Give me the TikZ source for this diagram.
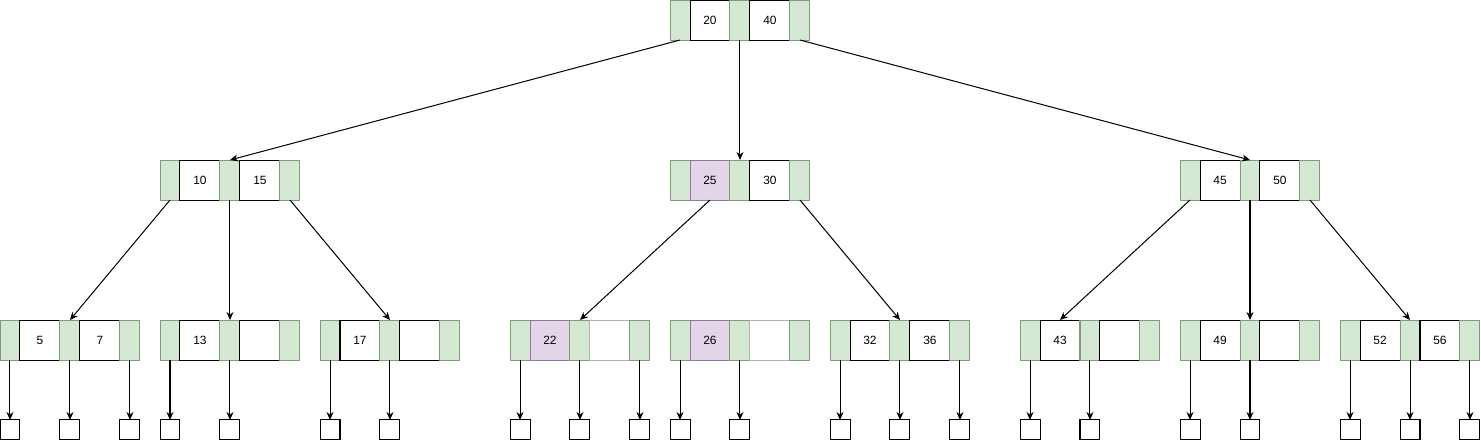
\documentclass[tikz,border=0pt]{standalone}
\usepackage{fontspec}
\setmainfont{Liberation Sans}
\usetikzlibrary{arrows.meta,positioning}

\definecolor{ptrfill}{HTML}{D5E8D4}
\definecolor{ptrdraw}{HTML}{7E9C78}
\definecolor{hitfill}{HTML}{E1D5E7}
\definecolor{hitdraw}{HTML}{9673A6}
\definecolor{emptydraw}{HTML}{B3B3B3}

\tikzset{
  cell/.style={draw, line width=0.57pt, minimum height=0.8cm, inner sep=0pt, outer sep=0pt,
    anchor=north west, font=\fontsize{6.8}{8}\selectfont},
  ptr/.style={cell, fill=ptrfill, draw=ptrdraw, minimum width=0.4cm},
  key/.style={cell, fill=white, draw=black, minimum width=0.8cm},
  hit/.style={key, fill=hitfill, draw=hitdraw},
  blank/.style={key, draw=emptydraw},
  leaf/.style={draw, line width=0.57pt, minimum size=0.4cm, inner sep=0pt, outer sep=0pt},
  link/.style={-{Stealth[length=1.6mm,width=1.4mm]}, line width=0.57pt}
}

% one tree node: name, x, y, key 1, style 1, key 2, style 2
\newcommand{\bnode}[7]{%
  \node[ptr] (#1-p1) at (#2,#3) {};
  \node[#5, right=0pt of #1-p1] (#1-k1) {#4};
  \node[ptr, right=0pt of #1-k1] (#1-p2) {};
  \node[#7, right=0pt of #1-p2] (#1-k2) {#6};
  \node[ptr, right=0pt of #1-k2] (#1-p3) {};
}

\begin{document}
\begin{tikzpicture}[x=0.02cm, y=-0.02cm]
  \useasboundingbox (0,0) rectangle (1481,441);

  % root
  \bnode{root}{670}{0}{20}{key}{40}{key}

  % second level
  \bnode{n10}{160}{160}{10}{key}{15}{key}
  \bnode{n25}{670}{160}{25}{hit}{30}{key}
  \bnode{n45}{1180}{160}{45}{key}{50}{key}

  % third level
  \bnode{n5}{0}{320}{5}{key}{7}{key}
  \bnode{n13}{160}{320}{13}{key}{}{key}
  \bnode{n17}{320}{320}{17}{key}{}{key}
  \bnode{n22}{510}{320}{22}{hit}{}{blank}
  \bnode{n26}{670}{320}{26}{hit}{}{blank}
  \bnode{n32}{830}{320}{32}{key}{36}{key}
  \bnode{n43}{1020}{320}{43}{key}{}{key}
  \bnode{n49}{1180}{320}{49}{key}{}{key}
  \bnode{n52}{1340}{320}{52}{key}{56}{key}

  \draw[link] (root-p1.south) -- (n10-p2.north);
  \draw[link] (root-p2) -- (n25-p2);
  \draw[link] (root-p3.south) -- (n45-p2.north);

  \draw[link] (n10-p1.south) -- (n5-p2.north);
  \draw[link] (n10-p2) -- (n13-p2);
  \draw[link] (n10-p3.south) -- (n17-p2.north);
  \draw[link] (n25-k1.south) -- (n22-p2.north);
  \draw[link] (n25-p3.south) -- (n32-p2.north);
  \draw[link] (n45-p1.south) -- (n43-k1.north);
  \draw[link] (n45-p2) -- (n49-p2);
  \draw[link] (n45-p3.south) -- (n52-p2.north);

  % empty leaves
  \foreach \n/\k in {n5/3,n13/2,n17/2,n22/3,n26/2,n32/3,n43/2,n49/2,n52/3}{
    \foreach \j in {1,...,\k}{
      \node[leaf, below=1.2cm of \n-p\j] (\n-l\j) {};
      \draw[link] (\n-p\j) -- (\n-l\j);
    }
  }
\end{tikzpicture}
\end{document}
